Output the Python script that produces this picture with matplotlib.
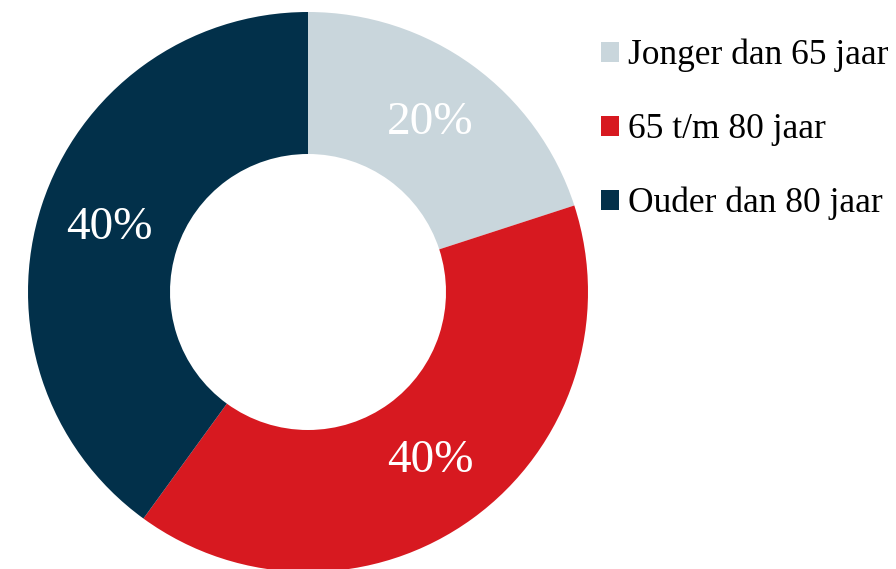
import matplotlib
matplotlib.use("Agg")
import matplotlib.pyplot as plt

# data
labels = ["Jonger dan 65 jaar", "65 t/m 80 jaar", "Ouder dan 80 jaar"]
shares = [20, 40, 40]
colors = ["#c9d6dc", "#d71920", "#02304a"]

plt.rcParams['font.family'] = ['Liberation Serif', 'DejaVu Serif']

fig = plt.figure(figsize=(8.96, 5.69), dpi=100)
ax = fig.add_axes([0, 0, 1, 1])

# donut, in pixel-like data units
wedges, _, autotexts = ax.pie(
    shares, colors=colors, startangle=90, counterclock=False,
    center=(308, 277), radius=280, autopct='%d%%', pctdistance=0.745,
    wedgeprops=dict(width=142, linewidth=0),
    textprops=dict(color='white', fontsize=34))

ax.set_xlim(0, 896)
ax.set_ylim(0, 569)
ax.set_aspect('equal')
ax.axis('off')

leg = ax.legend(wedges, labels, loc='upper left',
                bbox_to_anchor=(601 / 896, 1 - 39 / 569),
                frameon=False, fontsize=25.5, handlelength=0.5,
                handleheight=0.5, handletextpad=0.25, labelspacing=1.15,
                borderpad=0, borderaxespad=0)

fig.savefig("out.png", dpi=100)
